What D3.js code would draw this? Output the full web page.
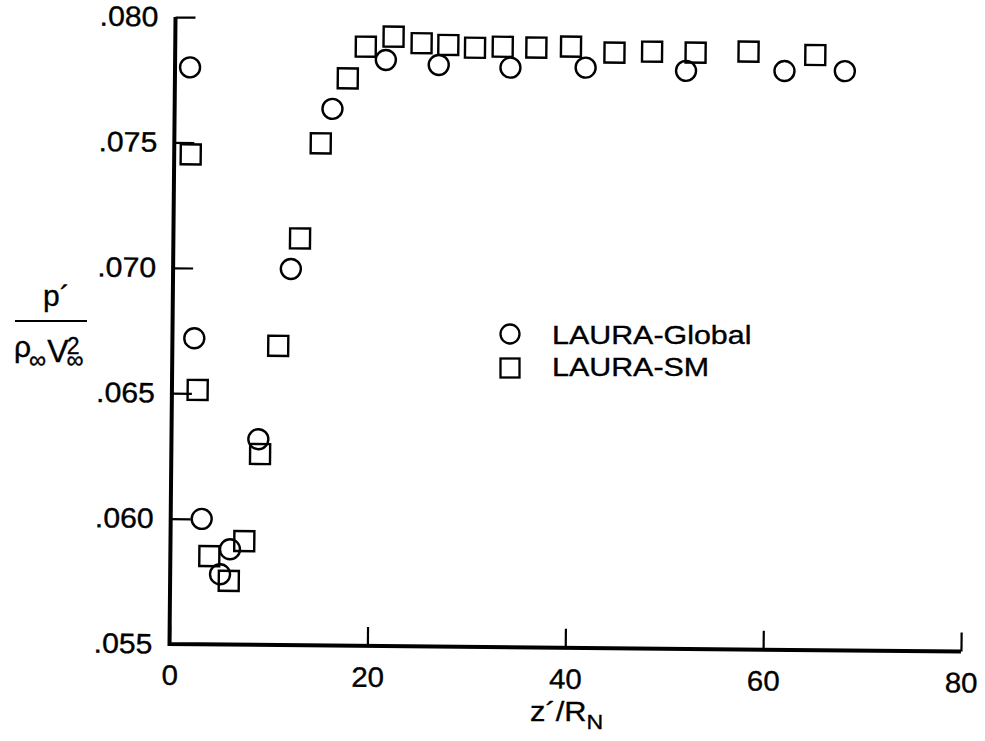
<!DOCTYPE html>
<html><head><meta charset="utf-8">
<script src="https://cdn.jsdelivr.net/npm/d3@7"></script>
<style>
body{margin:0;background:#fff}
text{font-family:"Liberation Sans",Arial,Helvetica,sans-serif;fill:#000;stroke:#000;stroke-width:0.35px}
</style>
</head><body>
<svg id="c" width="985" height="741"></svg>
<script>
// ---- data ----
const seriesNames = ["LAURA-Global", "LAURA-SM"];
const globalZ = [1.52, 2.21, 3.13, 5.04, 6.02, 8.78, 11.9, 15.95, 21.3, 26.65, 33.9, 41.5, 51.65, 61.6, 67.7];
const globalP = [0.0780, 0.0672, 0.0600, 0.0578, 0.0588, 0.0632, 0.0700, 0.0764, 0.07837, 0.07819, 0.07811, 0.07814, 0.07805, 0.07808, 0.0781];
const smZ = [1.67, 2.6, 3.94, 5.93, 7.46, 8.97, 10.7, 12.8, 14.8, 17.47, 19.26, 22.06, 24.9, 27.6, 30.3, 33.1, 36.5, 40.0, 44.4, 48.2, 52.6, 57.95, 64.7];
const smP = [0.07453, 0.06514, 0.05852, 0.05754, 0.05913, 0.06261, 0.06693, 0.07122, 0.07502, 0.07762, 0.07889, 0.0793, 0.07905, 0.07899, 0.07889, 0.07894, 0.07892, 0.07897, 0.07875, 0.0788, 0.07878, 0.07884, 0.07873];
const xTicks = [0, 20, 40, 60, 80];
const xTickLabels = ["0", "20", "40", "60", "80"];
const yTicks = [0.055, 0.060, 0.065, 0.070, 0.075, 0.080];
const yTickLabels = [".055", ".060", ".065", ".070", ".075", ".080"];

// ---- layout ----
const W = 791.5, H = 627;
const svg = d3.select("#c");
const g = svg.append("g").attr("transform", "translate(169.5,644) rotate(0.55)");
const x = d3.scaleLinear().domain([0, 80]).range([0, W]);
const y = d3.scaleLinear().domain([0.055, 0.080]).range([0, -H]);

function stretch(sel, sx) {
  sel.each(function () {
    const t = d3.select(this);
    const tx = +t.attr("x") || 0, ty = +t.attr("y") || 0;
    t.attr("x", 0).attr("y", 0).attr("transform", `translate(${tx},${ty}) scale(${sx},1)`);
  });
}

// axes
const xAxis = d3.axisBottom(x).tickValues(xTicks).tickSizeInner(-19).tickSizeOuter(0)
  .tickPadding(21).tickFormat((d, i) => xTickLabels[i]);
const gx = g.append("g").call(xAxis).attr("font-size", null).attr("font-family", null);
gx.select(".domain").remove();
gx.selectAll("line").attr("stroke", "#000").attr("stroke-width", 2.2);
gx.selectAll("text").attr("font-size", 28).call(stretch, 1.05);

const yAxis = d3.axisLeft(y).tickValues(yTicks).tickSizeInner(-20).tickSizeOuter(0)
  .tickPadding(17).tickFormat((d, i) => yTickLabels[i]);
const gy = g.append("g").call(yAxis).attr("font-size", null).attr("font-family", null);
gy.select(".domain").remove();
gy.selectAll("line").attr("stroke", "#000").attr("stroke-width", 2.2);
gy.selectAll("text").attr("font-size", 28).call(stretch, 1.08);

g.append("path")
  .attr("d", `M${x(0)},${y(0.080)}V${y(0.055)}H${x(80)}`)
  .attr("fill", "none").attr("stroke", "#000").attr("stroke-width", 4)
  .attr("stroke-linejoin", "miter").attr("stroke-linecap", "butt");

// markers
g.append("g").selectAll("circle").data(d3.zip(globalZ, globalP)).join("circle")
  .attr("cx", d => x(d[0])).attr("cy", d => y(d[1])).attr("r", 10)
  .attr("fill", "none").attr("stroke", "#000").attr("stroke-width", 2.4);
g.append("g").selectAll("rect").data(d3.zip(smZ, smP)).join("rect")
  .attr("x", d => x(d[0]) - 10).attr("y", d => y(d[1]) - 10)
  .attr("width", 20).attr("height", 20)
  .attr("fill", "none").attr("stroke", "#000").attr("stroke-width", 2.4);

// legend
const lg = svg.append("g");
lg.append("circle").attr("cx", 510).attr("cy", 334).attr("r", 9.5)
  .attr("fill", "none").attr("stroke", "#000").attr("stroke-width", 2.3);
lg.append("rect").attr("x", 500.5).attr("y", 358.5).attr("width", 19).attr("height", 19)
  .attr("fill", "none").attr("stroke", "#000").attr("stroke-width", 2.3);
lg.selectAll("text.lt").data(seriesNames).join("text").attr("class", "lt")
  .attr("x", 552).attr("y", (d, i) => 344 + i * 32).attr("font-size", 26).text(d => d)
  .call(stretch, 1.17);

// x-axis title
const xt = svg.append("text").attr("x", 530).attr("y", 721).attr("font-size", 28);
xt.append("tspan").text("z´/R");
xt.append("tspan").attr("font-size", 21).attr("dy", 8).text("N");
xt.call(stretch, 1.1);

// y-axis title (fraction)
svg.append("text").attr("x", 43).attr("y", 306).attr("font-size", 30).text("p´");
svg.append("line").attr("x1", 15).attr("x2", 87).attr("y1", 321).attr("y2", 321)
  .attr("stroke", "#000").attr("stroke-width", 2.2);
const den = svg.append("text").attr("x", 14).attr("y", 357).attr("font-size", 30);
den.append("tspan").text("ρ");
den.append("tspan").attr("font-size", 24).attr("dx", -2).attr("dy", 11).text("∞");
den.append("tspan").attr("font-size", 32).attr("dx", 1).attr("dy", -6).text("V");
den.append("tspan").attr("font-size", 24).attr("dx", -2).attr("dy", 6).text("∞");
den.append("tspan").attr("font-size", 23).attr("dx", -17).attr("dy", -14).text("2");
</script>
</body></html>
